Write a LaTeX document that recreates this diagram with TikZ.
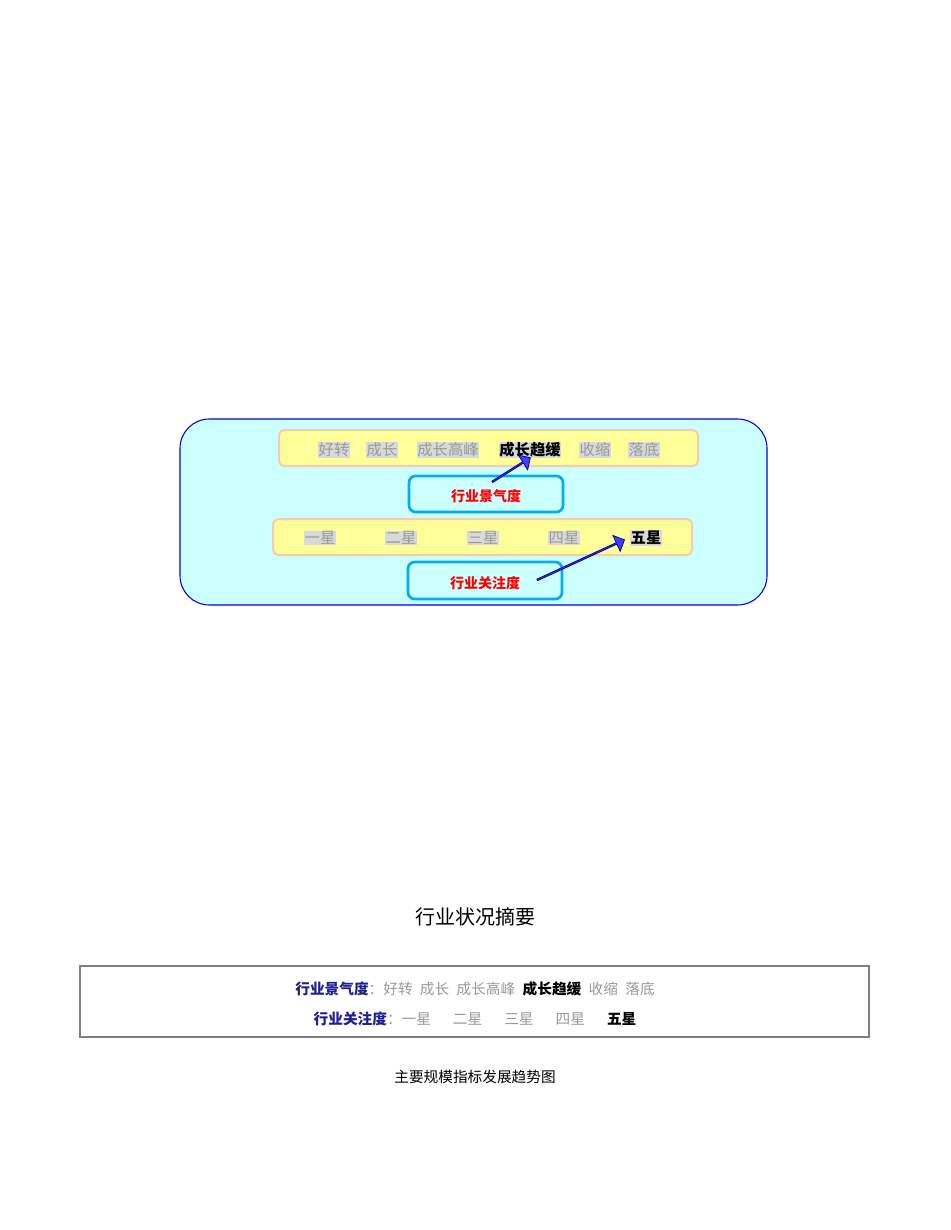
\documentclass[tikz,border=0pt]{standalone}
\usepackage{fontspec}
\newfontfamily\cjk{Noto Sans CJK SC}
\usetikzlibrary{shapes.arrows}
\definecolor{lcyan}{HTML}{CCFFFF}
\definecolor{lyel}{HTML}{FFFF99}
\definecolor{orb}{HTML}{F8CBAD}
\definecolor{hl}{HTML}{D9D9D9}
\definecolor{gtx}{HTML}{999999}
\definecolor{navy}{HTML}{1F1F8F}
\begin{document}
\begin{tikzpicture}[x=0.75pt,y=-0.75pt,font=\cjk,
  g/.style={fill=hl,inner sep=0.5pt,text=gtx,font=\cjk\fontsize{11.5}{12}\selectfont},
  b/.style={fill=hl,inner sep=0.5pt,text=black,font=\cjk\bfseries\fontsize{11.5}{12}\selectfont},
  bar/.style={draw=orb,line width=1.5pt,fill=lyel,rounded corners=4pt},
  cb/.style={draw=cyan,line width=2pt,rounded corners=5pt},
  rl/.style={text=red,font=\cjk\bfseries\fontsize{10.5}{12}\selectfont},
  fat/.style={single arrow,draw=blue!60!black,fill=blue!75!white,minimum width=13pt,single arrow head extend=3pt,single arrow head indent=0pt,inner sep=0pt,line width=0.6pt},
  t/.style={font=\cjk\fontsize{11}{12}\selectfont,inner sep=0pt}]
\useasboundingbox (0,0) rectangle (950,1230);
\node[draw=blue!90!black,fill=lcyan,rounded corners=22pt,line width=0.8pt,minimum width=587*0.75pt,minimum height=186*0.75pt] (outer) at (473.5,512) {};
\node[bar,minimum width=419*0.75pt,minimum height=36*0.75pt] (bar1) at (488.5,448) {};
\node[bar,minimum width=419*0.75pt,minimum height=36*0.75pt] (bar2) at (482.5,537) {};
\node[cb,minimum width=154*0.75pt,minimum height=36*0.75pt] (jq) at (486,494) {};
\node[rl] (jqt) at (486,496) {行业景气度};
\node[cb,minimum width=154*0.75pt,minimum height=37*0.75pt] (gz) at (485,580.5) {};
\node[rl] (gzt) at (485,583) {行业关注度};
\node[g] (a1) at (334,450) {好转};
\node[g] (a2) at (382,450) {成长};
\node[g] (a3) at (448,450) {成长高峰};
\node[b] (a4) at (530,450) {成长趋缓};
\node[g] (a5) at (595,450) {收缩};
\node[g] (a6) at (644,450) {落底};
\node[g] (s1) at (320,538) {一星};
\node[g] (s2) at (401,538) {二星};
\node[g] (s3) at (483,538) {三星};
\node[g] (s4) at (564,538) {四星};
\node[b] (s5) at (646,538) {五星};
\node[fat,minimum height=45*0.75pt,rotate=32.3] (ar1) at (511,470) {};
\node[fat,minimum height=96*0.75pt,rotate=24.7] (ar2) at (580.5,560) {};
\node[font=\cjk\fontsize{15}{16}\selectfont] (title) at (475,917) {行业状况摘要};
\node[draw=gray,line width=1.5pt,minimum width=789*0.75pt,minimum height=71*0.75pt] (sum) at (474.5,1001.5) {};
\node[t] (l1) at (475,989) {\textcolor{navy}{\bfseries 行业景气度}\textcolor{gtx}{：好转\enspace 成长\enspace 成长高峰\enspace}\textbf{成长趋缓}\textcolor{gtx}{\enspace 收缩\enspace 落底}};
\node[t] (l2) at (475,1019) {\textcolor{navy}{\bfseries 行业关注度}\textcolor{gtx}{：一星\quad\enspace 二星\quad\enspace 三星\quad\enspace 四星\quad\enspace}\textbf{五星}};
\node[font=\cjk\fontsize{11}{12}\selectfont] (cap) at (475,1077) {主要规模指标发展趋势图};
\end{tikzpicture}
\end{document}
